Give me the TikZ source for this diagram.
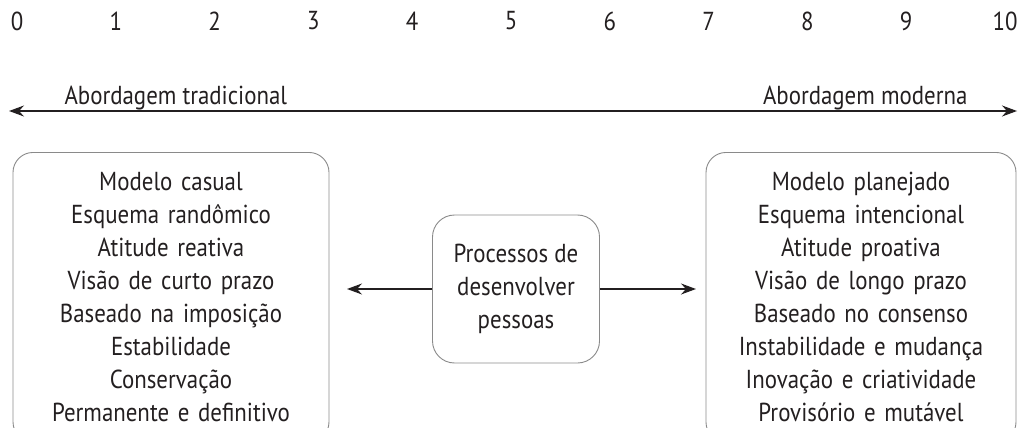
\documentclass[tikz,border=0pt]{standalone}
\usepackage{fontspec}
\setmainfont[FakeStretch=0.88]{PT Sans}
\usepackage{xcolor}
\usetikzlibrary{arrows.meta,positioning}

\definecolor{inkc}{HTML}{231F20}
\definecolor{framec}{HTML}{8A8A8A}

\tikzset{
    txt/.style={font=\fontsize{26}{33}\selectfont, text=inkc},
    listbox/.style={txt, draw=framec, line width=0.9pt, rounded corners=20pt,
        align=center, inner xsep=8pt, inner ysep=20pt, anchor=north},
    procbox/.style={txt, draw=framec, line width=0.9pt, rounded corners=22pt,
        align=center, minimum width=167pt, minimum height=148pt},
    tip/.style={-{Stealth[length=15pt,width=11pt,inset=5pt]}, line width=1.3pt, draw=inkc}
}

\begin{document}
\begin{tikzpicture}[x=1pt, y=-1pt]
    \useasboundingbox (0,0) rectangle (1018,428);
    \clip (0,0) rectangle (1018,428);

    % scale
    \foreach \i in {0,...,10}
        \node[txt] (n\i) at ({17+98.8*\i},21) {\i};

    % approaches
    \coordinate (lend) at (9,111);
    \coordinate (rend) at (1017,111);
    \draw[tip, {Stealth[length=15pt,width=11pt,inset=5pt]}-{Stealth[length=15pt,width=11pt,inset=5pt]}] (lend) -- (rend);
    \node[txt, anchor=base west] (trad) at (61,104) {Abordagem tradicional};
    \node[txt, anchor=base east] (mod) at (971,104) {Abordagem moderna};

    % lists
    \node[listbox, text width=300pt] (oldlist) at (171,152) {Modelo casual\\
        Esquema randômico\\ Atitude reativa\\ Visão de curto prazo\\
        Baseado na imposição\\ Estabilidade\\ Conservação\\
        Permanente e definitivo};
    \node[listbox, text width=294pt] (newlist) at (861,152) {Modelo planejado\\
        Esquema intencional\\ Atitude proativa\\ Visão de longo prazo\\
        Baseado no consenso\\ Instabilidade e mudança\\
        Inovação e criatividade\\ Provisório e mutável};

    % center
    \node[procbox] (proc) at (516,289) {Processos de\\ desenvolver\\ pessoas};
    \coordinate (la) at (347,289);
    \coordinate (ra) at (696,289);
    \draw[tip] (proc.west) -- (la);
    \draw[tip] (proc.east) -- (ra);
\end{tikzpicture}
\end{document}
